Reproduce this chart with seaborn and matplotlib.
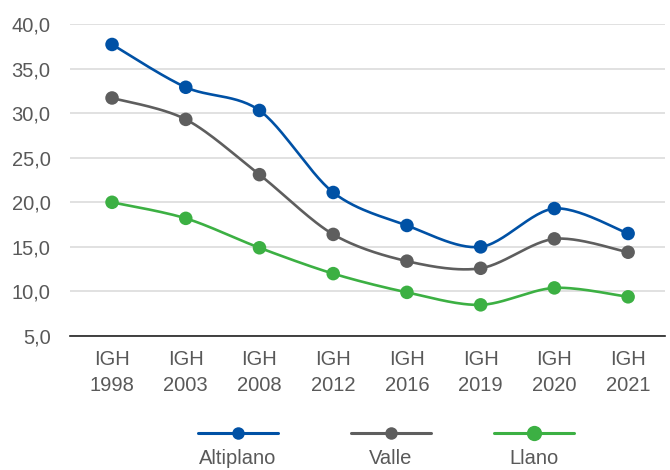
import numpy as np
import pandas as pd
import seaborn as sns
import matplotlib.pyplot as plt
from matplotlib.lines import Line2D

# ------------------- Data -------------------
years = ["1998", "2003", "2008", "2012", "2016", "2019", "2020", "2021"]
altiplano = [37.7, 32.9, 30.3, 21.1, 17.4, 15.0, 19.3, 16.5]
valle = [31.7, 29.3, 23.1, 16.4, 13.4, 12.6, 15.9, 14.4]
llano = [20.0, 18.2, 14.9, 12.0, 9.9, 8.5, 10.4, 9.4]
series_names = ["Altiplano", "Valle", "Llano"]
colors = {"Altiplano": "#0051A5", "Valle": "#5E5E5E", "Llano": "#3CB043"}

sns.set_style("white")
plt.rcParams["font.family"] = ["Liberation Sans", "DejaVu Sans"]

labels = ["IGH\n" + y for y in years]
xpos = np.arange(len(years))

rows = []
for name, vals in zip(series_names, [altiplano, valle, llano]):
    for x, v in zip(xpos, vals):
        rows.append({"x": x, "value": v, "serie": name})
df = pd.DataFrame(rows)


# smoothed line like Excel (cubic bezier through the points)
def smooth(xs, ys, n=30, k=1 / 6.5):
    px = np.asarray(xs, dtype=float)
    py = np.asarray(ys, dtype=float)
    out_x, out_y = [], []
    for i in range(len(px) - 1):
        i0 = max(i - 1, 0)
        i3 = min(i + 2, len(px) - 1)
        b0 = np.array([px[i], py[i]])
        b3 = np.array([px[i + 1], py[i + 1]])
        b1 = b0 + (np.array([px[i + 1], py[i + 1]]) - np.array([px[i0], py[i0]])) * k
        b2 = b3 - (np.array([px[i3], py[i3]]) - np.array([px[i], py[i]])) * k
        t = np.linspace(0, 1, n)[:, None]
        pts = ((1 - t) ** 3) * b0 + 3 * ((1 - t) ** 2) * t * b1 + 3 * (1 - t) * t ** 2 * b2 + t ** 3 * b3
        out_x.extend(pts[:, 0])
        out_y.extend(pts[:, 1])
    return out_x, out_y


smooth_rows = []
for name in series_names:
    sub = df[df["serie"] == name]
    sx, sy = smooth(sub["x"], sub["value"])
    for a, b in zip(sx, sy):
        smooth_rows.append({"x": a, "value": b, "serie": name})
df_smooth = pd.DataFrame(smooth_rows)

fig = plt.figure(figsize=(6.7, 4.7), dpi=100)
ax = fig.add_axes([0.1045, 0.285, 0.888, 0.664])

for name in series_names:
    sub = df_smooth[df_smooth["serie"] == name]
    ax.plot(sub["x"], sub["value"], color=colors[name], lw=1.9, zorder=3)

sns.scatterplot(data=df, x="x", y="value", hue="serie", palette=colors,
                s=95, edgecolor="none", legend=False, ax=ax, zorder=4)

ax.set_xlim(-0.57, 7.5)
ax.set_ylim(5, 40)
yticks = np.arange(5, 40.1, 5)
ax.set_yticks(yticks)
ax.set_yticklabels([f"{v:.1f}".replace(".", ",") for v in yticks])
ax.set_xticks(xpos)
ax.set_xticklabels(labels, linespacing=1.45)
ax.tick_params(axis="both", length=0, labelsize=14.5, colors="#595959")
ax.tick_params(axis="y", pad=14)
ax.tick_params(axis="x", pad=10)
ax.set_xlabel("")
ax.set_ylabel("")
ax.grid(axis="y", color="#D9D9D9", lw=1.1)
ax.grid(axis="x", visible=False)
for s in ["top", "right", "left"]:
    ax.spines[s].set_visible(False)
ax.spines["bottom"].set_color("#222222")
ax.spines["bottom"].set_linewidth(1.2)

# legend: marker line above, text below
leg_x = [238, 391, 534]
msizes = [9, 9, 11]
for name, cx, ms in zip(series_names, leg_x, msizes):
    fx = cx / 670
    fig.add_artist(Line2D([fx - 40 / 670, fx + 40 / 670], [1 - 433 / 470] * 2,
                          color=colors[name], lw=2.2, transform=fig.transFigure))
    fig.add_artist(Line2D([fx], [1 - 433 / 470], marker="o", markersize=ms,
                          color=colors[name], markeredgewidth=0, transform=fig.transFigure))
    fig.text(fx, 1 - 459 / 470, name, ha="center", va="center", fontsize=14.5, color="#595959")

fig.savefig("out.png", dpi=100)
